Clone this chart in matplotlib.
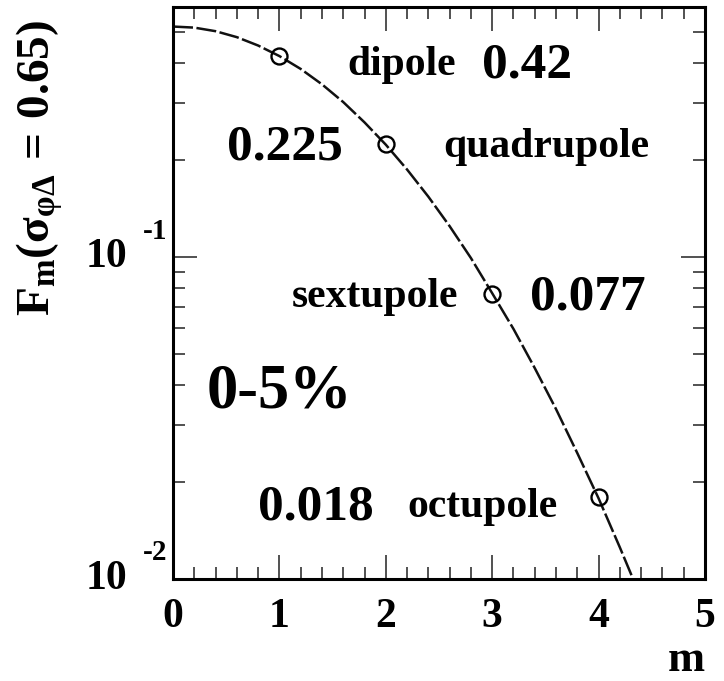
import matplotlib
matplotlib.use("Agg")
import matplotlib.pyplot as plt
from matplotlib.ticker import FixedLocator, LogLocator, NullFormatter
from matplotlib.transforms import blended_transform_factory

plt.rcParams["font.family"] = ["Liberation Serif", "DejaVu Serif"]
plt.rcParams["font.weight"] = "bold"
plt.rcParams["mathtext.fontset"] = "custom"
plt.rcParams["mathtext.rm"] = "Liberation Serif:bold"
plt.rcParams["mathtext.bf"] = "Liberation Serif:bold"
plt.rcParams["mathtext.it"] = "Liberation Serif:bold"

# harmonic order m and the smooth F_m curve
curve_m = [0.0, 0.2, 0.4, 0.6, 0.8, 1.0, 1.2, 1.4, 1.6, 1.8, 2.0, 2.2,
           2.4, 2.6, 2.8, 3.0, 3.2, 3.4, 3.6, 3.8, 4.0, 4.2, 4.4]
curve_f = [0.520, 0.516, 0.503, 0.482, 0.454, 0.421, 0.384, 0.344, 0.303,
           0.262, 0.2234, 0.187, 0.154, 0.1247, 0.0993, 0.0772, 0.0598,
           0.0452, 0.0337, 0.0246, 0.0178, 0.01253, 0.00871]

# marked harmonics
point_m = [1, 2, 3, 4]
point_f = [0.42, 0.225, 0.077, 0.018]
point_names = ["dipole", "quadrupole", "sextupole", "octupole"]
point_labels = ["0.42", "0.225", "0.077", "0.018"]

x_ticks = [0, 1, 2, 3, 4, 5]
y_exponents = [-2, -1]
centrality = "0-5%"

W, H = 724, 681
fig = plt.figure(figsize=(W / 100, H / 100), dpi=100)
ax = fig.add_axes([173 / W, 1 - 579 / H, (705 - 173) / W, (579 - 7) / H])

ax.plot(curve_m, curve_f, color="#111111", lw=1.8, dashes=(8, 1.4),
        solid_capstyle="butt")
ax.plot(point_m, point_f, ls="none", marker="o", ms=11.5, mfc="none",
        mec="black", mew=1.7)

ax.set_yscale("log")
ax.set_xlim(0, 5)
ax.set_ylim(0.01, 0.598)

for s in ax.spines.values():
    s.set_linewidth(2.2)

ax.xaxis.set_major_locator(FixedLocator(x_ticks))
ax.xaxis.set_minor_locator(FixedLocator([i * 0.2 for i in range(26)]))
ax.set_xticklabels([str(t) for t in x_ticks])
ax.yaxis.set_major_locator(FixedLocator([10.0 ** e for e in y_exponents]))
ax.yaxis.set_minor_locator(LogLocator(base=10, subs=range(2, 10)))
ax.yaxis.set_major_formatter(NullFormatter())
ax.yaxis.set_minor_formatter(NullFormatter())

ax.tick_params(which="both", direction="in", top=True, right=True,
               width=1.2, color="#333333")
ax.tick_params(which="major", length=17, labelsize=30, pad=12)
ax.tick_params(which="minor", length=8.6)
ax.tick_params(axis="x", which="major", pad=14)

# ROOT-style power-of-ten labels on the log axis
ytr = blended_transform_factory(fig.transFigure, ax.transData)
for e in y_exponents:
    v = 10.0 ** e
    ax.text(127 / W, v, "10", transform=ytr, ha="right", va="center",
            fontsize=30, fontweight="bold")
    ax.annotate(str(e), xy=(143 / W, v), xycoords=ytr,
                xytext=(0, 26), textcoords="offset pixels",
                ha="left", va="center", fontsize=21, fontweight="bold")

fig.text(705 / W, 1 - 680 / H, "m", ha="right", va="bottom",
         fontsize=32, fontweight="bold")
fig.text(40 / W, 1 - 168 / H,
         r"$\mathbf{F_m(σ_{φΔ}\,=\,0.65)}$",
         rotation=90, ha="center", va="center", fontsize=34)

def px(x, y):
    return x / W, 1 - y / H

name_pos = [(347, 75), (443, 157), (292, 307), (407, 517)]
label_pos = [(482, 77), (227, 160), (530, 310), (258, 520)]
for name, lab, (nx, ny), (lx, ly) in zip(point_names, point_labels,
                                         name_pos, label_pos):
    fig.text(*px(nx, ny), name, ha="left", va="baseline", fontsize=30,
             fontweight="bold")
    fig.text(*px(lx, ly), lab, ha="left", va="baseline", fontsize=37,
             fontweight="bold")

fig.text(*px(207, 407), centrality, ha="left", va="baseline", fontsize=45,
         fontweight="bold")

fig.savefig("out.png", dpi=100)
